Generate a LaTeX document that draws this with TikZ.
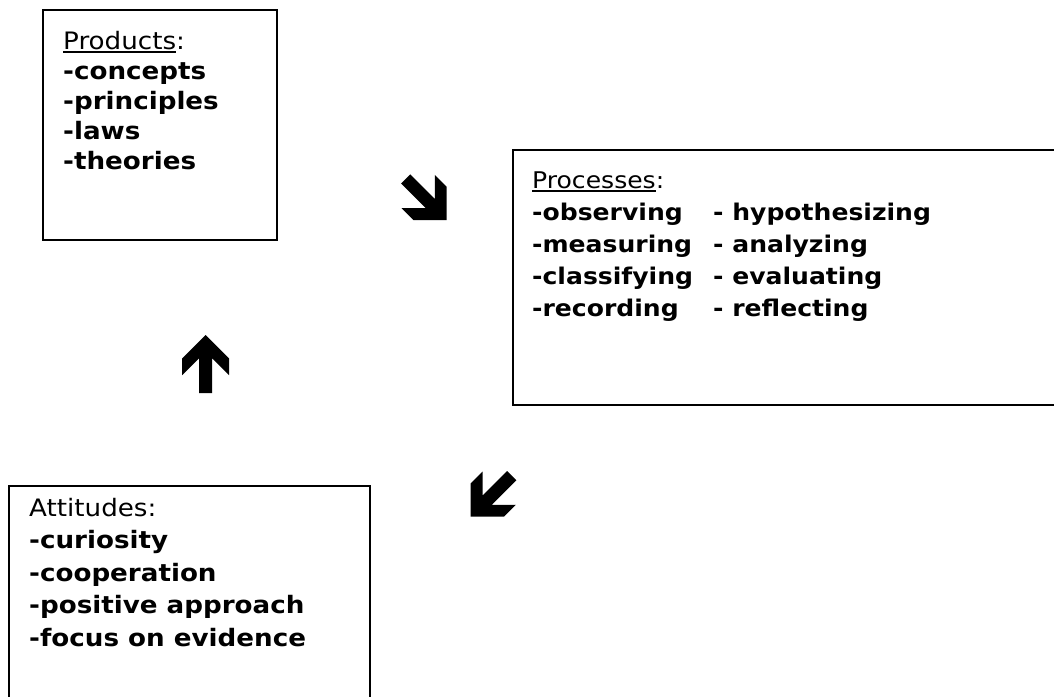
\documentclass[tikz,border=0pt]{standalone}
\usepackage{fontspec}
\setmainfont{DejaVu Sans}[FakeStretch=1.09]
\newcommand{\myul}[1]{\setbox0\hbox{#1}\rlap{\rule[-3.5pt]{\wd0}{1.8pt}}\box0}
\tikzset{
  panel/.style={draw, line width=1.6pt, rectangle, inner sep=0pt, anchor=north west},
  listtext/.style={anchor=base west, inner sep=0pt},
  blockarrow/.pic={\fill (0,0) -- (23.5,23.5) -- (23.5,40.2) -- (6.5,23.2) -- (6.5,58)
     -- (-6.5,58) -- (-6.5,23.2) -- (-23.5,40.2) -- (-23.5,23.5) -- cycle;}
}
\begin{document}
\begin{tikzpicture}[x=1pt,y=-1pt]
\useasboundingbox (0,0) rectangle (1054,696);
\clip (0,0) rectangle (1054,696);
\fill[white] (0,0) rectangle (1054,696);
% boxes
\node[panel, minimum width=234pt, minimum height=230pt] (prod) at (42,9) {};
\node[panel, minimum width=600pt, minimum height=255pt] (proc) at (512,149) {};
\node[panel, minimum width=361pt, minimum height=260pt] (att) at (8,485) {};
% texts
\node[listtext, font=\fontsize{24}{30}\selectfont] (prodtext) at (63,49) {\begin{tabular}[t]{@{}l@{}}
\myul{Products}:\\
\textbf{-concepts}\\
\textbf{-principles}\\
\textbf{-laws}\\
\textbf{-theories}
\end{tabular}};
\node[listtext, font=\fontsize{23}{32}\selectfont] (proctext) at (532,188) {\begin{tabular}[t]{@{}l@{}}
\myul{Processes}:\\
\makebox[181pt][l]{\textbf{-observing}}\textbf{- hypothesizing}\\
\makebox[181pt][l]{\textbf{-measuring}}\textbf{- analyzing}\\
\makebox[181pt][l]{\textbf{-classifying}}\textbf{- evaluating}\\
\makebox[181pt][l]{\textbf{-recording}}\textbf{- reflecting}
\end{tabular}};
\node[listtext, font=\fontsize{24}{32.5}\selectfont] (atttext) at (29,516) {\begin{tabular}[t]{@{}l@{}}
Attitudes:\\
\textbf{-curiosity}\\
\textbf{-cooperation}\\
\textbf{-positive approach}\\
\textbf{-focus on evidence}
\end{tabular}};
% block arrows
\pic[rotate=-135] at (446.7,220) {blockarrow};
\pic at (205.7,335) {blockarrow};
\pic[rotate=135] at (470.7,516.7) {blockarrow};
\end{tikzpicture}
\end{document}
